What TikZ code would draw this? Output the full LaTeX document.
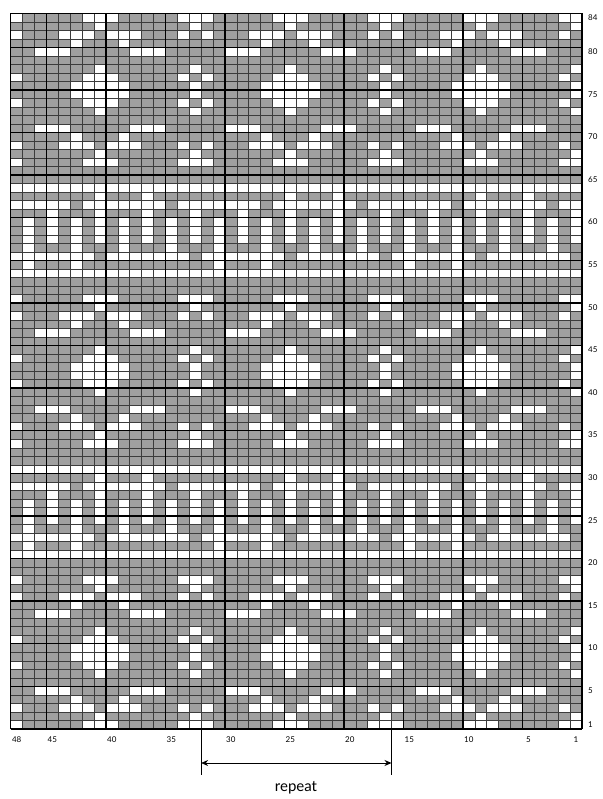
\documentclass[tikz,border=0pt]{standalone}
\usepackage{fontspec}
\setmainfont{Lato}
\usetikzlibrary{arrows.meta}
\definecolor{cellgray}{HTML}{A0A0A0}
\definecolor{gridline}{HTML}{3C3C3C}
\begin{document}
\begin{tikzpicture}[x=1pt,y=1pt,
  thinline/.style={draw=gridline,line width=0.6pt},
  thickline/.style={draw=black,line width=1.4pt},
  rowlabel/.style={font=\fontsize{8}{8}\selectfont,anchor=west,inner sep=0pt},
  collabel/.style={font=\fontsize{8}{8}\selectfont,anchor=center,inner sep=0pt},
  replabel/.style={font=\fontsize{15}{15}\selectfont,anchor=center,inner sep=0pt},
  tickline/.style={draw=black,line width=0.6pt},
  reparrow/.style={draw=black,line width=0.8pt,{Stealth[length=7pt,width=6pt]}-{Stealth[length=7pt,width=6pt]}}]
\useasboundingbox (0,0) rectangle (602,799);
\def\X{10.7}\def\W{11.9}\def\T{785.7}\def\H{8.52}
% background cells
\fill[cellgray] (\X,70) rectangle (582.0,785.7);
% white cells: rows of one vertical period (31..64), repeated every 33 rows;
% repeat positions j=1..16, col = j, j+16, j+32
\foreach \r/\list in {
  64/{1,2,3,4,5,6,7,8,9,10,11,12,13,14,15,16},
  63/{5,9},
  62/{1,2,4,5,6,7,8,9,10,12,13,14,15,16},
  61/{1,5,9,13},
  60/{1,3,5,7,9,11,13,15},
  59/{1,3,5,7,9,11,13,15},
  58/{1,3,5,7,9,11,13,15},
  57/{3,7,11,15},
  56/{2,3,4,5,6,7,8,10,11,12,13,14,15,16},
  55/{11,15},
  54/{1,2,3,4,5,6,7,8,9,10,11,12,13,14,15,16},
  51/{16,1,2,8,9,10},
  50/{1,9},
  49/{16,2,6,7,8,10,11,12},
  48/{7,11},
  47/{4,5,6,12,13,14},
  45/{1,9},
  44/{16,2,8,9,10},
  43/{1,7,8,9,10,11},
  42/{1,7,8,9,10,11},
  41/{16,2,8,9,10},
  40/{1,9},
  38/{4,5,6,12,13,14},
  37/{7,11},
  36/{16,2,6,7,8,10,11,12},
  35/{1,9},
  34/{16,1,2,8,9,10},
  31/{1,2,3,4,5,6,7,8,9,10,11,12,13,14,15,16}}{
  \foreach \d in {-33,0,33}{
    \pgfmathtruncatemacro\rr{\r+\d}
    \ifnum\rr>0 \ifnum\rr<85
    \foreach \j in \list {
      \foreach \k in {0,16,32}{
        \pgfmathsetmacro\cx{\X+(48-\j-\k)*\W}
        \pgfmathsetmacro\cy{\T-(85-\rr)*\H}
        \fill[white] (\cx,\cy) rectangle ++(\W,\H);
      }
    }
    \fi\fi
  }
}
% thin grid
\foreach \i in {0,...,48}{\draw[thinline] (\X+\i*\W,70) -- (\X+\i*\W,\T);}
\foreach \m in {0,...,84}{\draw[thinline] (\X,\T-\m*\H) -- (\X+48*\W,\T-\m*\H);}
% thick grid
\foreach \i in {0,3,8,13,18,23,28,33,38,43,48}{\draw[thickline] (\X+\i*\W,70) -- (\X+\i*\W,\T);}
\foreach \m in {0,4,9,14,19,24,29,34,39,44,49,54,59,64,69,74,79,84}{\draw[thickline] (\X,\T-\m*\H) -- (\X+48*\W,\T-\m*\H);}
% row labels
\foreach \r in {84,80,75,70,65,60,55,50,45,40,35,30,25,20,15,10,5,1}{
  \node[rowlabel] (r\r) at (588,\T-84.5*\H+\r*\H) {\r};
}
% column labels
\foreach \c in {48,45,40,35,30,25,20,15,10,5,1}{
  \node[collabel] (c\c) at (\X+48.5*\W-\c*\W,59) {\c};
}
% repeat markers
\coordinate (tlA) at (\X+16*\W,70);
\coordinate (tlB) at (\X+16*\W,24);
\coordinate (trA) at (\X+32*\W,70);
\coordinate (trB) at (\X+32*\W,24);
\draw[tickline] (tlA) -- (tlB);
\draw[tickline] (trA) -- (trB);
\coordinate (aL) at (\X+16*\W,36);
\coordinate (aR) at (\X+32*\W,36);
\draw[reparrow] (aL) -- (aR);
\node[replabel] (rep) at (296,11) {repeat};
\end{tikzpicture}
\end{document}
